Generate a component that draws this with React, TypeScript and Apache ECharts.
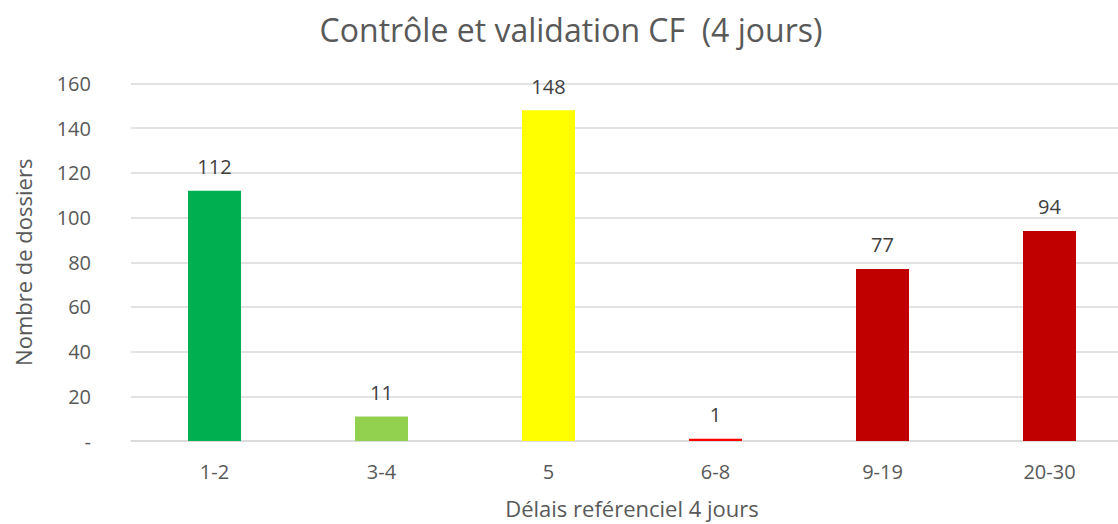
import React, { useEffect, useRef } from "react";
import * as echarts from "echarts";

const categories = ["1-2", "3-4", "5", "6-8", "9-19", "20-30"];
const values = [112, 11, 148, 1, 77, 94];
const barColors = ["#00B050", "#92D050", "#FFFF00", "#FF0000", "#C00000", "#C00000"];

const FONT = "'Open Sans', 'Noto Sans', sans-serif";

export default function App() {
  const ref = useRef<HTMLDivElement>(null);
  useEffect(() => {
    if (!ref.current) return;
    const chart = echarts.init(ref.current, null, { renderer: "svg" });
    chart.setOption({
      animation: false,
      backgroundColor: "#ffffff",
      title: {
        text: "Contrôle et validation CF  (4 jours)",
        left: 566,
        textAlign: "center",
        top: 8,
        textStyle: { fontFamily: FONT, fontSize: 32, fontWeight: "normal", color: "#595959" },
      },
      grid: {
        left: 131,
        top: 83.5,
        width: 1002,
        height: 357.5,
        containLabel: false,
        outerBoundsMode: "none",
      },
      xAxis: {
        type: "category",
        data: categories,
        name: "Délais reférenciel 4 jours",
        nameLocation: "middle",
        nameGap: 56,
        nameTextStyle: { fontFamily: FONT, fontSize: 22, color: "#595959" },
        axisLine: { show: true, lineStyle: { color: "#D9D9D9", width: 1.5 } },
        axisTick: { show: false },
        axisLabel: { fontFamily: FONT, fontSize: 20, color: "#595959", margin: 20 },
      },
      yAxis: {
        type: "value",
        min: 0,
        max: 160,
        interval: 20,
        name: "Nombre de dossiers",
        nameLocation: "middle",
        nameGap: 97,
        nameRotate: 90,
        nameTextStyle: { fontFamily: FONT, fontSize: 22, color: "#595959" },
        axisLine: { show: false },
        axisTick: { show: false },
        splitLine: { lineStyle: { color: "#D9D9D9", width: 1.5 } },
        axisLabel: {
          fontFamily: FONT,
          fontSize: 20,
          color: "#595959",
          margin: 40,
          formatter: (v: number) => (v === 0 ? "-" : String(v)),
        },
      },
      series: [
        {
          type: "bar",
          barWidth: 53,
          data: values.map((v, i) => ({ value: v, itemStyle: { color: barColors[i] } })),
          label: {
            show: true,
            position: "top",
            distance: 14,
            fontFamily: FONT,
            fontSize: 20,
            color: "#404040",
          },
        },
      ],
    });
    return () => chart.dispose();
  }, []);
  return (
    <div
      ref={ref}
      style={{ position: "fixed", left: 0, top: 0, width: 1118, height: 524 }}
    />
  );
}
